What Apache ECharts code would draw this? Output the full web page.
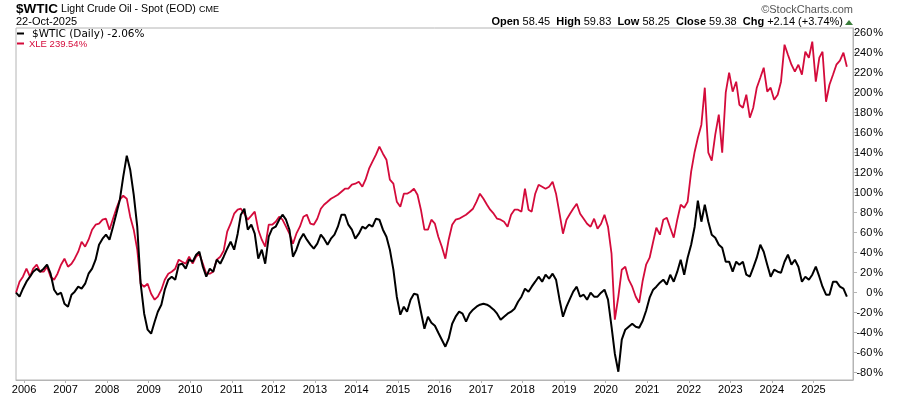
<!DOCTYPE html>
<html>
<head>
<meta charset="utf-8">
<title>$WTIC vs XLE</title>
<script src="https://cdn.jsdelivr.net/npm/echarts@6.0.0/dist/echarts.min.js"></script>
<style>
html, body { margin: 0; padding: 0; background: #fff; }
#chart_panel { width: 900px; height: 396px; }
</style>
</head>
<body>
<div id="chart_panel"></div>
<script>
// monthly closes (22nd of each month), % change since 22-Oct-2005
var months = [
	'2005-10','2005-11','2005-12',
	'2006-01','2006-02','2006-03','2006-04','2006-05','2006-06','2006-07','2006-08','2006-09','2006-10','2006-11','2006-12',
	'2007-01','2007-02','2007-03','2007-04','2007-05','2007-06','2007-07','2007-08','2007-09','2007-10','2007-11','2007-12',
	'2008-01','2008-02','2008-03','2008-04','2008-05','2008-06','2008-07','2008-08','2008-09','2008-10','2008-11','2008-12',
	'2009-01','2009-02','2009-03','2009-04','2009-05','2009-06','2009-07','2009-08','2009-09','2009-10','2009-11','2009-12',
	'2010-01','2010-02','2010-03','2010-04','2010-05','2010-06','2010-07','2010-08','2010-09','2010-10','2010-11','2010-12',
	'2011-01','2011-02','2011-03','2011-04','2011-05','2011-06','2011-07','2011-08','2011-09','2011-10','2011-11','2011-12',
	'2012-01','2012-02','2012-03','2012-04','2012-05','2012-06','2012-07','2012-08','2012-09','2012-10','2012-11','2012-12',
	'2013-01','2013-02','2013-03','2013-04','2013-05','2013-06','2013-07','2013-08','2013-09','2013-10','2013-11','2013-12',
	'2014-01','2014-02','2014-03','2014-04','2014-05','2014-06','2014-07','2014-08','2014-09','2014-10','2014-11','2014-12',
	'2015-01','2015-02','2015-03','2015-04','2015-05','2015-06','2015-07','2015-08','2015-09','2015-10','2015-11','2015-12',
	'2016-01','2016-02','2016-03','2016-04','2016-05','2016-06','2016-07','2016-08','2016-09','2016-10','2016-11','2016-12',
	'2017-01','2017-02','2017-03','2017-04','2017-05','2017-06','2017-07','2017-08','2017-09','2017-10','2017-11','2017-12',
	'2018-01','2018-02','2018-03','2018-04','2018-05','2018-06','2018-07','2018-08','2018-09','2018-10','2018-11','2018-12',
	'2019-01','2019-02','2019-03','2019-04','2019-05','2019-06','2019-07','2019-08','2019-09','2019-10','2019-11','2019-12',
	'2020-01','2020-02','2020-03','2020-04','2020-05','2020-06','2020-07','2020-08','2020-09','2020-10','2020-11','2020-12',
	'2021-01','2021-02','2021-03','2021-04','2021-05','2021-06','2021-07','2021-08','2021-09','2021-10','2021-11','2021-12',
	'2022-01','2022-02','2022-03','2022-04','2022-05','2022-06','2022-07','2022-08','2022-09','2022-10','2022-11','2022-12',
	'2023-01','2023-02','2023-03','2023-04','2023-05','2023-06','2023-07','2023-08','2023-09','2023-10','2023-11','2023-12',
	'2024-01','2024-02','2024-03','2024-04','2024-05','2024-06','2024-07','2024-08','2024-09','2024-10','2024-11','2024-12',
	'2025-01','2025-02','2025-03','2025-04','2025-05','2025-06','2025-07','2025-08','2025-09','2025-10'
];

var wticPct = [
	0, -4, 4, 11, 16, 21, 24, 21, 24, 28,
	19, 3, -2, 0, -11, -14, -2, 1, 6, 4,
	9, 19, 24, 33, 48, 54, 58, 53, 66, 79,
	93, 116, 137, 123, 98, 66, 9, -21, -37, -41,
	-29, -19, -12, 3, 13, 16, 13, 28, 29, 24,
	33, 31, 38, 41, 26, 16, 24, 21, 33, 29,
	36, 44, 51, 43, 59, 78, 84, 63, 68, 59,
	34, 43, 29, 56, 64, 66, 73, 78, 73, 63,
	36, 43, 53, 59, 53, 48, 44, 49, 58, 54,
	48, 54, 58, 66, 78, 78, 68, 63, 54, 59,
	66, 64, 68, 66, 74, 73, 63, 56, 43, 23,
	-4, -22, -14, -19, -7, -1, -2, -19, -36, -24,
	-30, -33, -40, -47, -54, -46, -31, -24, -19, -21,
	-29, -21, -17, -14, -12, -11, -12, -14, -17, -21,
	-27, -24, -21, -19, -16, -9, -4, 4, 1, 6,
	11, 16, 11, 18, 14, 19, 13, -7, -24, -14,
	-6, 1, 6, -4, -2, -7, 0, -4, -4, 0,
	3, -7, -34, -61, -79, -47, -37, -34, -31, -34,
	-35, -28, -18, -5, 3, 6, 10, 13, 8, 18,
	11, 21, 33, 18, 35, 48, 66, 92, 71, 88,
	71, 58, 55, 48, 45, 31, 31, 21, 31, 28,
	31, 18, 16, 25, 35, 48, 41, 28, 16, 23,
	21, 20, 31, 38, 28, 33, 26, 11, 16, 13,
	18, 26, 16, 6, -2, -2, 11, 11, 6, 4,
	-4
];

var xlePct = [
	0, 11, 16, 24, 16, 24, 28, 21, 21, 26,
	16, 13, 19, 28, 34, 26, 29, 34, 41, 51,
	46, 53, 63, 68, 69, 73, 74, 63, 74, 84,
	93, 97, 94, 76, 63, 43, 9, 6, 9, -1,
	-7, -4, 3, 13, 19, 21, 24, 33, 31, 29,
	36, 29, 36, 39, 29, 19, 19, 21, 33, 36,
	42, 61, 69, 79, 83, 84, 79, 73, 77, 81,
	63, 53, 46, 68, 68, 71, 76, 73, 66, 59,
	49, 59, 66, 76, 78, 69, 68, 74, 84, 88,
	91, 94, 96, 98, 101, 104, 104, 108, 109, 111,
	106, 113, 124, 131, 138, 146, 139, 133, 113, 109,
	91, 86, 99, 99, 101, 104, 98, 83, 63, 63,
	73, 69, 56, 46, 34, 53, 68, 73, 74, 76,
	78, 81, 84, 91, 99, 94, 88, 83, 79, 74,
	73, 71, 66, 78, 83, 83, 81, 104, 83, 81,
	99, 108, 106, 104, 106, 111, 99, 79, 59, 73,
	79, 84, 89, 79, 74, 69, 66, 74, 64, 69,
	78, 66, 39, -27, -4, 23, 26, 13, 6, -4,
	-10, 12, 28, 35, 51, 65, 58, 73, 75, 65,
	55, 73, 88, 85, 91, 121, 141, 155, 168, 205,
	140, 132, 158, 178, 140, 200, 220, 201, 211, 188,
	185, 198, 175, 185, 205, 215, 225, 201, 205, 193,
	198, 211, 248, 238, 228, 221, 228, 218, 241, 235,
	251, 211, 235, 241, 191, 208, 218, 228, 232, 240,
	226
];

var wticLabel = '$WTIC (Daily) -2.06%';
var xleLabel = 'XLE 239.54%';
var quote = { open: '58.45', high: '59.83', low: '58.25', close: '59.38', chg: '+2.14 (+3.74%)' };

var SANS = '"Liberation Sans", Arial, sans-serif';
var RED = '#d40b3b';

function getSeriesData(values){
	var data = [];
	for(var i=0; i<months.length; i++){
		data.push([months[i] + '-22', values[i]]);
	}
	return data;
}

var myChart = echarts.init(document.getElementById('chart_panel'));

var option = {
	animation: false,
	backgroundColor: '#fff',
	textStyle: { fontFamily: SANS },
	grid: {
		left: 16, right: 47, top: 28, bottom: 16,
		show: true, borderColor: '#b4b4b4', borderWidth: 1
	},
	xAxis: {
		type: 'time',
		min: '2005-10-22',
		max: '2025-12-15',
		minInterval: 365 * 86400000,
		maxInterval: 366 * 86400000,
		axisLine: { onZero: false, lineStyle: { color: '#b4b4b4' } },
		axisTick: { show: true, length: 3, lineStyle: { color: '#b4b4b4' } },
		splitLine: { show: false },
		axisLabel: {
			formatter: '{yyyy}',
			color: '#000', fontSize: 11, margin: 4,
			fontFamily: SANS, hideOverlap: false
		}
	},
	yAxis: {
		type: 'value',
		position: 'right',
		min: -87.3,
		max: 264.7,
		splitNumber: 17,
		axisLine: { show: true, lineStyle: { color: '#b4b4b4' } },
		axisTick: { show: true, length: 4, lineStyle: { color: '#b4b4b4' } },
		splitLine: { show: false },
		axisLabel: {
			showMinLabel: false, showMaxLabel: false,
			align: 'right', margin: 30,
			color: '#000', fontSize: 11, fontFamily: SANS,
			formatter: function(v){ return v + '\u200a%'; }
		}
	},
	series: [
		{
			name: 'XLE', type: 'line', showSymbol: false,
			lineStyle: { color: RED, width: 1.8 }, itemStyle: { color: RED },
			data: getSeriesData(xlePct)
		},
		{
			name: '$WTIC', type: 'line', showSymbol: false,
			lineStyle: { color: '#000', width: 2 }, itemStyle: { color: '#000' },
			data: getSeriesData(wticPct)
		}
	],
	graphic: [
		{ type: 'text', x: 16, y: 9, style: { text: '$WTIC', fill: '#000', font: 'bold 13.5px ' + SANS, verticalAlign: 'middle' } },
		{ type: 'text', x: 61, y: 9, style: { text: 'Light Crude Oil - Spot (EOD)', fill: '#000', font: '10.6px ' + SANS, verticalAlign: 'middle' } },
		{ type: 'text', x: 199, y: 9.5, style: { text: 'CME', fill: '#000', font: '9px ' + SANS, verticalAlign: 'middle' } },
		{ type: 'text', x: 16, y: 22, style: { text: '22-Oct-2025', fill: '#000', font: '11px ' + SANS, verticalAlign: 'middle' } },
		{ type: 'text', x: 853, y: 9.5, style: { text: '\u00a9StockCharts.com', fill: '#555', font: '11px ' + SANS, align: 'right', verticalAlign: 'middle' } },
		{
			type: 'text', x: 843, y: 22,
			style: {
				text: '{b|Open} ' + quote.open + '  {b|High} ' + quote.high + '  {b|Low} ' + quote.low +
					'  {b|Close} ' + quote.close + '  {b|Chg} ' + quote.chg,
				fill: '#000', font: '11px ' + SANS, align: 'right', verticalAlign: 'middle',
				rich: { b: { fontWeight: 'bold', fontSize: 11, fontFamily: SANS, fill: '#000' } }
			}
		},
		{ type: 'polygon', shape: { points: [[845, 25], [853, 25], [849, 20]] }, style: { fill: '#3a7d3a' } },
		{ type: 'rect', shape: { x: 17, y: 32.5, width: 7, height: 2 }, style: { fill: '#000' } },
		{ type: 'text', x: 32, y: 34, style: { text: wticLabel, fill: '#000', font: '10.5px "DejaVu Sans", Verdana, sans-serif', verticalAlign: 'middle' } },
		{ type: 'rect', shape: { x: 17, y: 42.5, width: 7, height: 2 }, style: { fill: RED } },
		{ type: 'text', x: 29, y: 44, style: { text: xleLabel, fill: RED, font: '9.5px ' + SANS, verticalAlign: 'middle' } }
	]
};

myChart.setOption(option);
window.onresize = myChart.resize;
</script>
</body>
</html>
